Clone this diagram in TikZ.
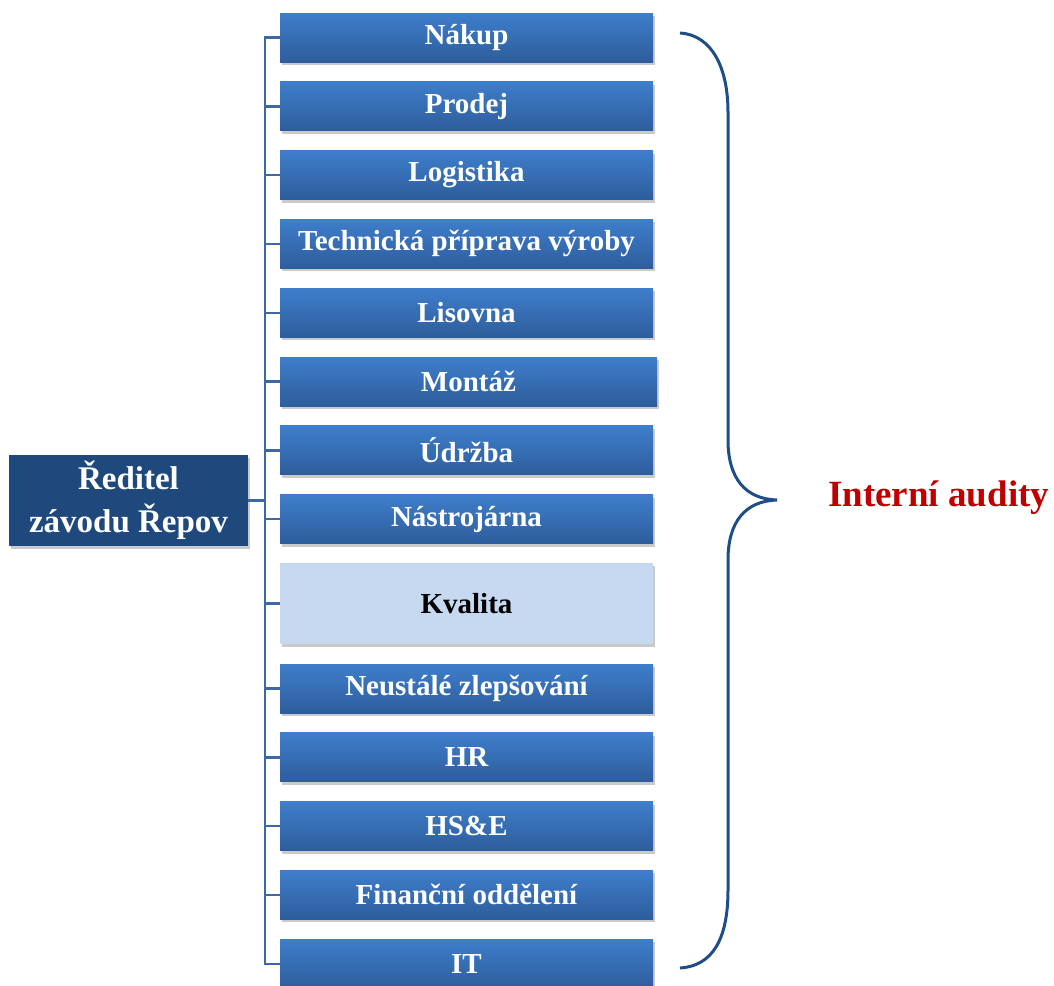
\documentclass[tikz,border=0pt]{standalone}
\usepackage{fontspec}
\setmainfont{Liberation Serif}
\usetikzlibrary{shadows}
\definecolor{unittop}{RGB}{62,126,203}
\definecolor{unitbot}{RGB}{46,93,156}
\definecolor{headblue}{RGB}{31,73,125}
\definecolor{qualblue}{RGB}{198,217,241}
\definecolor{linkblue}{RGB}{62,104,164}
\definecolor{braceblue}{RGB}{31,78,135}
\definecolor{auditred}{RGB}{192,0,0}
\tikzset{
  boxshadow/.style={drop shadow={shadow xshift=1.5pt,shadow yshift=-3pt,opacity=0.35,fill=black!60}},
  unitbox/.style={minimum width=373pt,minimum height=49pt,inner sep=0pt,top color=unittop,bottom color=unitbot,draw=none,boxshadow,text=white,font=\fontsize{29}{33}\selectfont\bfseries},
  qualbox/.style={minimum width=373pt,minimum height=81pt,inner sep=0pt,fill=qualblue,boxshadow,text=black,font=\fontsize{29}{33}\selectfont\bfseries},
  headbox/.style={minimum width=239pt,minimum height=91pt,inner sep=0pt,fill=headblue,boxshadow,text=white,align=center,font=\fontsize{33}{43}\selectfont\bfseries},
  link/.style={draw=linkblue,line width=2.4pt},
}
\begin{document}
\begin{tikzpicture}[x=1pt,y=-1pt]
\useasboundingbox (0,0) rectangle (1054,985);
\node[headbox] (reditel) at (128.5,500.5) {Ředitel\\závodu Řepov};
\node[unitbox] (nakup) at (466.5,37.5) {Nákup};
\node[unitbox] (prodej) at (466.5,106.3) {Prodej};
\node[unitbox] (logistika) at (466.5,175.1) {Logistika};
\node[unitbox] (tpv) at (466.5,243.9) {Technická příprava výroby};
\node[unitbox] (lisovna) at (466.5,312.7) {Lisovna};
\node[unitbox,minimum width=377pt] (montaz) at (468.5,381.5) {Montáž};
\node[unitbox] (udrzba) at (466.5,450.3) {Údržba};
\node[unitbox] (nastrojarna) at (466.5,519.1) {Nástrojárna};
\node[qualbox] (kvalita) at (466.5,603.5) {Kvalita};
\node[unitbox] (zlepsovani) at (466.5,688.5) {Neustálé zlepšování};
\node[unitbox] (hr) at (466.5,757.3) {HR};
\node[unitbox] (hse) at (466.5,826.1) {HS\&E};
\node[unitbox] (financni) at (466.5,894.9) {Finanční oddělení};
\node[unitbox] (it) at (466.5,963.7) {IT};
% trunk
\coordinate (trunk) at (265,0);
\draw[link] (nakup.west) -- (nakup.west -| trunk) -- (it.west -| trunk) -- (it.west);
\draw[link] (reditel.east) -- (reditel.east -| trunk);
\draw[link] (prodej.west) -- (prodej.west -| trunk);
\draw[link] (logistika.west) -- (logistika.west -| trunk);
\draw[link] (tpv.west) -- (tpv.west -| trunk);
\draw[link] (lisovna.west) -- (lisovna.west -| trunk);
\draw[link] (montaz.west) -- (montaz.west -| trunk);
\draw[link] (udrzba.west) -- (udrzba.west -| trunk);
\draw[link] (nastrojarna.west) -- (nastrojarna.west -| trunk);
\draw[link] (kvalita.west) -- (kvalita.west -| trunk);
\draw[link] (zlepsovani.west) -- (zlepsovani.west -| trunk);
\draw[link] (hr.west) -- (hr.west -| trunk);
\draw[link] (hse.west) -- (hse.west -| trunk);
\draw[link] (financni.west) -- (financni.west -| trunk);
% brace
\coordinate (bracetop) at (680,33);
\coordinate (bracetip) at (777,500);
\coordinate (bracebot) at (680,968);
\draw[braceblue,line width=3pt] (bracetop) .. controls (712,35) and (728,68) .. (728,112)
  -- (728,440) .. controls (728,478) and (745,499) .. (bracetip)
  .. controls (745,501) and (728,522) .. (728,560)
  -- (728,890) .. controls (728,940) and (712,966) .. (bracebot);
\node[text=auditred,font=\fontsize{37}{40}\selectfont\bfseries,anchor=west,inner sep=0pt] (audity) at (828,498) {Interní audity};
\end{tikzpicture}
\end{document}
